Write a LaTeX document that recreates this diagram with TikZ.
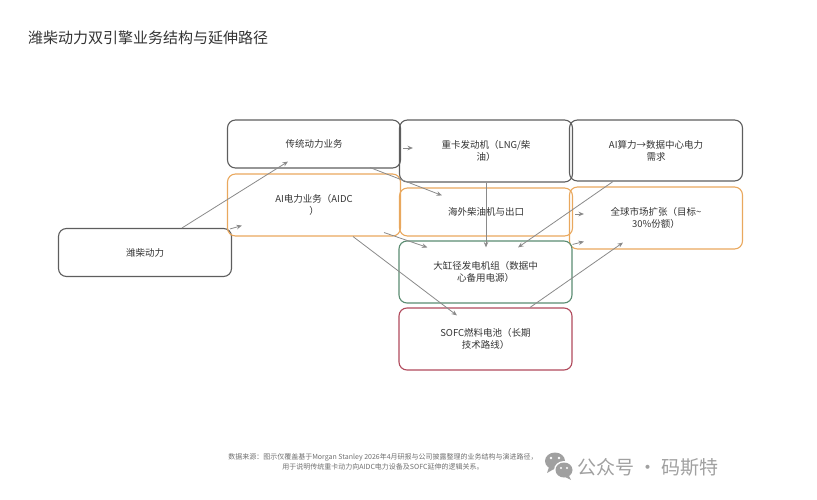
\documentclass[tikz,border=0pt]{standalone}
\usepackage{fontspec}
\usepackage{xcolor}
\usetikzlibrary{arrows.meta}
\setmainfont{Noto Sans CJK SC}
\definecolor{boxgray}{HTML}{5E5E5E}
\definecolor{boxorange}{HTML}{E9A85E}
\definecolor{boxgreen}{HTML}{5B8C72}
\definecolor{boxred}{HTML}{B04A5C}
\definecolor{arrgray}{HTML}{8A8A8A}
\definecolor{textgray}{HTML}{333333}
\definecolor{notegray}{HTML}{6E6E6E}
\definecolor{wmgray}{HTML}{A0A0A0}

\begin{document}
\begin{tikzpicture}[
            x=1pt, y=-1pt,
            block/.style={rectangle, rounded corners=8pt, draw=boxgray, line width=1.1pt,
                minimum width=173pt, minimum height=62pt, align=center, text=textgray,
                font=\fontsize{9.5}{12}\selectfont},
            lowblock/.style={block, minimum height=48pt},
            flow/.style={-{Stealth[length=5.5pt,width=4.5pt]}, draw=arrgray, line width=0.8pt}
        ]
            \useasboundingbox (0,0) rectangle (817,500);

            \node[anchor=west, inner sep=0pt, text=textgray, font=\fontsize{15}{18}\selectfont] (title) at (28,38) {潍柴动力双引擎业务结构与延伸路径};

            \node[lowblock] (weichai) at (145,252.5) {潍柴动力};
            \node[lowblock] (legacy) at (314,144) {传统动力业务};
            \node[block, draw=boxorange] (aipower) at (314,205) {AI电力业务（AIDC\\）};
            \node[block] (truck) at (486,151) {重卡发动机（LNG/柴\\油）};
            \node[lowblock, draw=boxorange] (export) at (486,212) {海外柴油机与出口};
            \node[block, minimum height=61pt] (compute) at (656,150.5) {AI算力→数据中心电力\\需求};
            \node[block, draw=boxorange] (global) at (656,218) {全球市场扩张（目标\textasciitilde\\30\%份额）};
            \node[block, draw=boxgreen] (genset) at (485.5,272) {大缸径发电机组（数据中\\心备用电源）};
            \node[block, draw=boxred] (sofc) at (485.5,339) {SOFC燃料电池（长期\\技术路线）};

            \draw[flow] ([xshift=37pt]weichai.north) -- ([xshift=-26pt,yshift=7pt]legacy.south);
            \draw[flow] ([xshift=-2pt,yshift=-1pt]weichai.north east) -- ([xshift=15pt,yshift=11pt]aipower.south west);
            \draw[flow] ([xshift=2pt,yshift=-4pt]legacy.east) -- ([xshift=14pt,yshift=3pt]truck.west);
            \draw[flow] ([xshift=56pt,yshift=1pt]legacy.south) -- ([xshift=-44pt,yshift=-8pt]export.north);
            \draw[flow] (truck.south) -- ([xshift=0.5pt,yshift=-7pt]genset.north);
            \draw[flow] ([xshift=-43pt]compute.south) -- ([xshift=32.5pt,yshift=-7pt]genset.north);
            \draw[flow] ([xshift=-17pt,yshift=4pt]aipower.south east) -- ([xshift=29pt,yshift=-7pt]genset.north west);
            \draw[flow] ([xshift=39pt]aipower.south) -- ([xshift=-28.5pt,yshift=-8pt]sofc.north);
            \draw[flow] ([xshift=2pt,yshift=-2pt]export.east) -- ([xshift=15pt,yshift=4pt]global.west);
            \draw[flow] ([yshift=-4pt]genset.north east) -- ([xshift=15pt,yshift=8pt]global.south west);
            \draw[flow] ([xshift=44.5pt]sofc.north) -- ([xshift=-33pt,yshift=7pt]global.south);

            \node[inner sep=0pt, align=center, text=notegray, font=\fontsize{7}{10}\selectfont] (source) at (383,462) {数据来源：图示仅覆盖基于Morgan Stanley 2026年4月研报与公司披露整理的业务结构与演进路径，\\用于说明传统重卡动力向AIDC电力设备及SOFC延伸的逻辑关系。};

            \fill[wmgray] (555,461) ellipse (10 and 8.5);
            \fill[wmgray] (549,467) -- (547,473) -- (554,469) -- cycle;
            \fill[white] (564,470) ellipse (10 and 9);
            \fill[wmgray] (564,470) ellipse (8.5 and 7.5);
            \fill[wmgray] (569,476) -- (571,480) -- (565,477) -- cycle;
            \fill[white] (551,458) circle (1.3) (559,458) circle (1.3) (561,468) circle (1.1) (567,468) circle (1.1);
            \node[anchor=west, inner sep=0pt, text=wmgray, font=\fontsize{19}{21}\selectfont] (mark) at (577,467) {公众号 · 码斯特};
        \end{tikzpicture}
\end{document}
